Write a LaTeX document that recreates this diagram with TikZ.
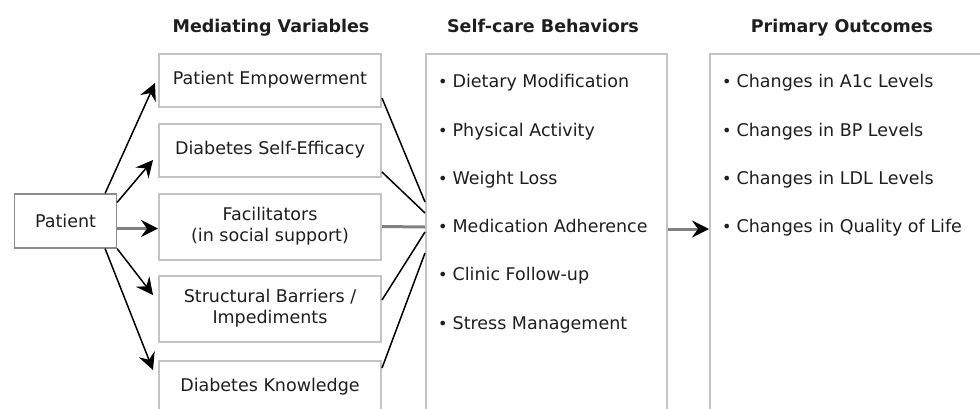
\documentclass[tikz,border=0pt]{standalone}
\usepackage{fontspec}
\setmainfont{DejaVu Sans}
\usetikzlibrary{arrows.meta}

\definecolor{boxgray}{HTML}{C4C4C4}
\definecolor{framegray}{HTML}{8C8C8C}
\definecolor{linkgray}{HTML}{808080}
\definecolor{inkgray}{HTML}{1E1E1E}
\newcommand{\dotmark}{{\fontsize{16}{16}\selectfont\textbullet}\hspace{5pt}}

\tikzset{
  every node/.style={font=\fontsize{17.5}{21}\selectfont,text=inkgray,inner sep=0pt},
  head/.style={font=\fontsize{17.5}{21}\selectfont\bfseries,anchor=base},
  varbox/.style={draw=boxgray,line width=2pt,minimum width=222pt,align=center},
  listbox/.style={draw=boxgray,line width=2pt,anchor=north west,minimum height=380pt},
  itm/.style={anchor=base west},
  tip/.style={-{Stealth[length=17pt,width=17pt,inset=6pt,black]}},
  link/.style={line width=1.5pt,black},
  flat/.style={line width=3pt,linkgray}
}

\begin{document}
\begin{tikzpicture}[x=1pt,y=-1pt]
\useasboundingbox (0,0) rectangle (980,408);
\clip (0,0) rectangle (980,408);

% headings
\node[head] (hvar) at (271,32) {Mediating Variables};
\node[head] (hcare) at (543,32) {Self-care Behaviors};
\node[head] (hout) at (842,32) {Primary Outcomes};

% patient and mediating variables
\node[draw=framegray,line width=1.2pt,minimum width=102pt,minimum height=54pt] (patient) at (65.5,221) {Patient};
\node[varbox,minimum height=53pt] (pe) at (270,80) {Patient Empowerment};
\node[varbox,minimum height=53pt] (dse) at (270,150) {Diabetes Self-Efficacy};
\node[varbox,minimum height=66pt] (fac) at (270,226.5) {Facilitators\\(in social support)};
\node[varbox,minimum height=66pt] (sb) at (270,308.5) {Structural Barriers /\\Impediments};
\node[varbox,minimum height=53pt] (dk) at (270,387) {Diabetes Knowledge};

% self-care behaviors
\node[listbox,minimum width=241pt] (care) at (425,53) {};
\node[itm] (c1) at (438,87) {\dotmark Dietary Modification};
\node[itm] (c2) at (438,136) {\dotmark Physical Activity};
\node[itm] (c3) at (438,184) {\dotmark Weight Loss};
\node[itm] (c4) at (438,232) {\dotmark Medication Adherence};
\node[itm] (c5) at (438,280) {\dotmark Clinic Follow-up};
\node[itm] (c6) at (438,329) {\dotmark Stress Management};

% primary outcomes
\node[listbox,minimum width=320pt] (out) at (709,53) {};
\node[itm] (o1) at (722,87) {\dotmark Changes in A1c Levels};
\node[itm] (o2) at (722,136) {\dotmark Changes in BP Levels};
\node[itm] (o3) at (722,184) {\dotmark Changes in LDL Levels};
\node[itm] (o4) at (722,232) {\dotmark Changes in Quality of Life};

% patient to mediators
\draw[link,tip] ([xshift=-12pt]patient.north east) -- ([xshift=-3pt,yshift=-3pt]pe.west);
\draw[link,tip] ([yshift=-9pt]patient.north east) -- ([xshift=-5pt,yshift=-10pt]dse.west);
\draw[flat,tip] ([yshift=-7.5pt]patient.east) -- ([yshift=-2pt]fac.west);
\draw[link,tip] (patient.south east) -- ([xshift=-5pt,yshift=13.5pt]sb.west);
\draw[link,tip] ([xshift=-12pt]patient.south east) -- ([xshift=-5pt,yshift=17pt]dk.west);

% mediators to self-care
\draw[link] ([yshift=-18pt]pe.east) -- ([yshift=-149pt]care.north west);
\draw[link] ([yshift=-22pt]dse.east) -- ([yshift=-160pt]care.north west);
\draw[flat] (fac.east) -- ([yshift=-174pt]care.north west);
\draw[link] ([yshift=8.5pt]sb.east) -- ([yshift=-179pt]care.north west);
\draw[link] ([yshift=19pt]dk.east) -- ([yshift=-200pt]care.north west);

% self-care to outcomes
\draw[flat,tip] ([yshift=-176pt]care.north east) -- ([yshift=-176pt]out.north west);
\end{tikzpicture}
\end{document}
